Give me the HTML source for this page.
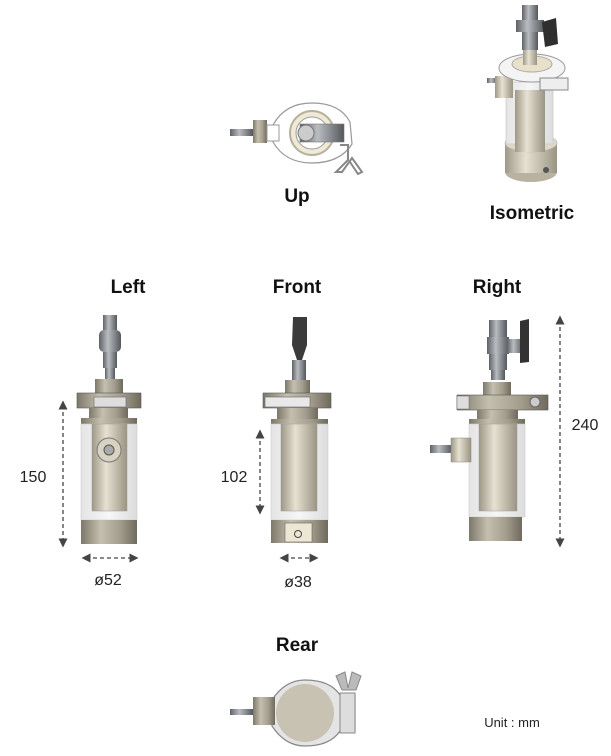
<!DOCTYPE html>
<html><head><meta charset="utf-8"><style>
html,body{margin:0;padding:0;background:#fff;}
svg{display:block;}
.l{font-family:"Liberation Sans",sans-serif;font-weight:bold;font-size:19px;fill:#111;text-anchor:middle;}
.d{font-family:"Liberation Sans",sans-serif;font-size:16px;fill:#222;text-anchor:middle;}
.dl{stroke:#444;stroke-width:1.3;stroke-dasharray:4 3;fill:none;}
</style></head><body>
<svg width="611" height="756" viewBox="0 0 611 756" xmlns="http://www.w3.org/2000/svg">
<defs>
<linearGradient id="m" x1="0" x2="1"><stop offset="0" stop-color="#7d786a"/><stop offset="0.35" stop-color="#c4bfae"/><stop offset="0.7" stop-color="#a29d8c"/><stop offset="1" stop-color="#6f6a5d"/></linearGradient>
<linearGradient id="c" x1="0" x2="1"><stop offset="0" stop-color="#9e9888"/><stop offset="0.4" stop-color="#e6e1d2"/><stop offset="1" stop-color="#9a9483"/></linearGradient>
<linearGradient id="s" x1="0" x2="1"><stop offset="0" stop-color="#5e6166"/><stop offset="0.4" stop-color="#b9bcc1"/><stop offset="1" stop-color="#54575c"/></linearGradient>
<linearGradient id="g" x1="0" x2="1"><stop offset="0" stop-color="#e4e4e4"/><stop offset="0.5" stop-color="#f6f6f6"/><stop offset="1" stop-color="#dcdcdc"/></linearGradient>
<marker id="a" viewBox="0 0 10 10" refX="5" refY="5" markerWidth="7" markerHeight="7" orient="auto-start-reverse"><path d="M0,0L10,5L0,10z" fill="#444"/></marker>
</defs>

<!-- UP view -->
<path d="M273 125 Q285 103 312 103 Q340 103 350 122 L352 144 Q340 163 312 163 Q285 163 273 142 Z" fill="#fff" stroke="#999" stroke-width="1.2"/>
<circle cx="312" cy="133" r="22" fill="#efe9d8" stroke="#b9b09a" stroke-width="2"/>
<circle cx="312" cy="133" r="16" fill="#fff" stroke="#999"/>
<rect x="230" y="129" width="23" height="7" fill="url(#s)"/>
<rect x="253" y="120" width="14" height="23" fill="url(#m)"/>
<rect x="267" y="125" width="12" height="16" fill="#fff" stroke="#999"/>
<rect x="300" y="124" width="44" height="18" fill="url(#s)" stroke="#777" stroke-width=".6"/>
<circle cx="306" cy="133" r="8" fill="#ccc" stroke="#777"/>
<path d="M340 145 L348 145 L348 160 L336 172 L342 172 L352 158 L362 172 L358 174 L350 162" fill="none" stroke="#888" stroke-width="2"/>
<text class="l" x="297" y="202">Up</text>

<!-- Isometric -->
<ellipse cx="531" cy="172" rx="26" ry="10" fill="#b8b2a1"/>
<rect x="505" y="143" width="52" height="30" fill="url(#c)"/>
<ellipse cx="531" cy="143" rx="26" ry="9" fill="#ded8c8" stroke="#aaa" stroke-width=".6"/>
<circle cx="546" cy="170" r="3" fill="#555"/>
<rect x="506" y="82" width="47" height="62" fill="url(#g)" stroke="#ccc" stroke-width=".8"/>
<rect x="515" y="90" width="30" height="62" fill="url(#c)"/>
<rect x="487" y="78" width="10" height="5" fill="url(#s)"/>
<rect x="495" y="76" width="18" height="22" fill="url(#c)"/>
<ellipse cx="532" cy="68" rx="33" ry="14" fill="#f4f4f4" stroke="#999"/>
<ellipse cx="532" cy="64" rx="20" ry="8" fill="#e8e0c8" stroke="#aaa"/>
<rect x="540" y="78" width="28" height="12" fill="#eee" stroke="#888"/>
<rect x="523" y="35" width="14" height="30" fill="url(#c)"/>
<rect x="522" y="5" width="16" height="45" fill="url(#s)"/>
<rect x="516" y="20" width="28" height="12" fill="url(#s)"/>
<path d="M542 22 L556 18 L558 44 L545 47 Z" fill="#2f2f2f"/>
<text class="l" x="532" y="219">Isometric</text>

<!-- LEFT -->
<text class="l" x="128" y="293">Left</text>
<rect x="103" y="315" width="14" height="15" fill="url(#s)"/>
<rect x="99" y="330" width="22" height="22" rx="5" fill="url(#s)"/>
<rect x="103" y="352" width="14" height="16" fill="url(#s)"/>
<rect x="105" y="368" width="10" height="11" fill="url(#s)"/>
<rect x="95" y="379" width="28" height="14" fill="url(#m)"/>
<rect x="77" y="393" width="64" height="15" fill="url(#m)" stroke="#555" stroke-width=".6"/>
<rect x="94" y="397" width="32" height="10" fill="#ddd" stroke="#666" stroke-width=".6"/>
<rect x="89" y="408" width="39" height="11" fill="url(#m)"/>
<rect x="81" y="418" width="56" height="6" fill="url(#m)"/>
<rect x="81" y="424" width="56" height="96" fill="url(#g)" stroke="#ccc" stroke-width=".6"/>
<rect x="92" y="424" width="35" height="87" fill="url(#c)" stroke="#999" stroke-width=".5"/>
<circle cx="109" cy="450" r="12" fill="#d8d2c0" stroke="#777"/>
<circle cx="109" cy="450" r="5" fill="#aaa" stroke="#555"/>
<rect x="81" y="520" width="56" height="24" fill="url(#m)"/>
<line class="dl" x1="63" y1="405" x2="63" y2="543" marker-start="url(#a)" marker-end="url(#a)"/>
<text class="d" x="33" y="482">150</text>
<line class="dl" x1="86" y1="558" x2="134" y2="558" marker-start="url(#a)" marker-end="url(#a)"/>
<text class="d" x="108" y="585">ø52</text>

<!-- FRONT -->
<text class="l" x="297" y="293">Front</text>
<path d="M293 317 L307 317 L307 345 L302 360 L297 360 L292 345 Z" fill="#3b3b3b"/>
<rect x="292" y="360" width="14" height="20" fill="url(#s)"/>
<rect x="285" y="380" width="25" height="13" fill="url(#m)"/>
<rect x="263" y="393" width="68" height="15" fill="url(#m)" stroke="#555" stroke-width=".6"/>
<rect x="265" y="397" width="45" height="10" fill="#e8e8e8" stroke="#666" stroke-width=".6"/>
<rect x="277" y="408" width="41" height="11" fill="url(#m)"/>
<rect x="271" y="419" width="57" height="5" fill="url(#m)"/>
<rect x="271" y="424" width="57" height="96" fill="url(#g)" stroke="#ccc" stroke-width=".6"/>
<rect x="281" y="424" width="36" height="87" fill="url(#c)" stroke="#999" stroke-width=".5"/>
<rect x="271" y="520" width="57" height="23" fill="url(#m)"/>
<rect x="285" y="523" width="27" height="19" fill="#ece6d4" stroke="#666" stroke-width=".6"/>
<circle cx="298" cy="534" r="3.5" fill="none" stroke="#444"/>
<line class="dl" x1="260" y1="434" x2="260" y2="510" marker-start="url(#a)" marker-end="url(#a)"/>
<text class="d" x="234" y="482">102</text>
<line class="dl" x1="284" y1="558" x2="314" y2="558" marker-start="url(#a)" marker-end="url(#a)"/>
<text class="d" x="298" y="587">ø38</text>

<!-- RIGHT -->
<text class="l" x="497" y="293">Right</text>
<rect x="489" y="320" width="18" height="17" fill="url(#s)"/>
<rect x="487" y="337" width="22" height="17" fill="url(#s)"/>
<rect x="507" y="339" width="16" height="14" fill="url(#s)"/>
<path d="M520 321 L529 319 L529 362 L520 363 Z" fill="#333"/>
<rect x="489" y="354" width="18" height="16" fill="url(#s)"/>
<rect x="491" y="370" width="14" height="10" fill="url(#s)"/>
<rect x="483" y="382" width="28" height="14" fill="url(#m)"/>
<rect x="457" y="395" width="91" height="15" fill="url(#m)" stroke="#555" stroke-width=".6"/>
<rect x="457" y="396" width="12" height="13" fill="#ddd" stroke="#666" stroke-width=".5"/>
<circle cx="535" cy="402" r="5" fill="#ccc" stroke="#666"/>
<rect x="477" y="410" width="41" height="10" fill="url(#m)"/>
<rect x="469" y="419" width="56" height="5" fill="url(#m)"/>
<rect x="469" y="424" width="56" height="93" fill="url(#g)" stroke="#ccc" stroke-width=".6"/>
<rect x="479" y="424" width="38" height="87" fill="url(#c)" stroke="#999" stroke-width=".5"/>
<rect x="469" y="517" width="53" height="24" fill="url(#m)"/>
<rect x="430" y="445" width="22" height="8" fill="url(#s)"/>
<rect x="451" y="438" width="20" height="24" fill="url(#c)" stroke="#888" stroke-width=".5"/>
<line class="dl" x1="560" y1="320" x2="560" y2="543" marker-start="url(#a)" marker-end="url(#a)"/>
<text class="d" x="585" y="430">240</text>

<!-- REAR -->
<text class="l" x="297" y="651">Rear</text>
<path d="M272 700 Q285 680 305 680 Q330 680 340 695 L355 695 L355 731 L340 731 Q330 746 305 746 Q285 746 272 726 Z" fill="#e4e4e4" stroke="#888" stroke-width="1.2"/>
<circle cx="305" cy="713" r="29" fill="#c8c2b2"/>
<rect x="340" y="693" width="15" height="40" fill="#ddd" stroke="#888"/>
<path d="M336 676 L345 672 L348 688 L352 672 L361 676 L356 690 L342 690 Z" fill="#bbb" stroke="#888"/>
<rect x="230" y="709" width="23" height="6" fill="url(#s)"/>
<rect x="253" y="697" width="22" height="28" fill="url(#m)"/>
<text x="512" y="727" style="font-family:'Liberation Sans',sans-serif;font-size:13px;fill:#222;text-anchor:middle">Unit : mm</text>
</svg>
</body></html>
